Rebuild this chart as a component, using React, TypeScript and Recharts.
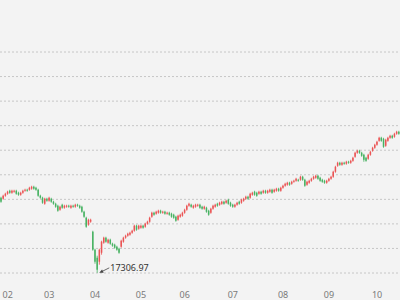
import { Bar, CartesianGrid, ComposedChart, ReferenceDot, XAxis, YAxis } from "recharts";

// each candle: [open, close, low, high]
type Candle = [number, number, number, number];

const jan: Candle[] = [
  [20364, 20202, 20161, 20405], [20324, 20446, 20283, 20487], [20446, 20527, 20405, 20568]
];
const feb: Candle[] = [
  [20527, 20609, 20487, 20649], [20649, 20568, 20527, 20690], [20568, 20649, 20527, 20690], [20609, 20649, 20568, 20690],
  [20649, 20527, 20487, 20690], [20568, 20487, 20446, 20609], [20487, 20568, 20446, 20609], [20568, 20649, 20527, 20690],
  [20649, 20690, 20609, 20731], [20690, 20649, 20609, 20731], [20690, 20771, 20649, 20812], [20731, 20812, 20690, 20853],
  [20812, 20731, 20690, 20853], [20771, 20690, 20649, 20812], [20690, 20446, 20405, 20731], [20446, 20364, 20324, 20487],
  [20364, 20161, 20120, 20405], [20120, 20324, 20080, 20364], [20324, 20242, 20202, 20364]
];
const mar: Candle[] = [
  [20242, 20364, 20202, 20405], [20324, 20202, 20161, 20364], [20202, 20120, 20080, 20242], [20120, 19998, 19957, 20161],
  [20039, 19835, 19795, 20080], [19876, 19998, 19835, 20039], [20080, 19957, 19917, 20120], [19957, 20039, 19917, 20080],
  [19998, 20039, 19957, 20080], [20039, 19998, 19957, 20080], [19957, 20039, 19917, 20080], [20039, 19998, 19957, 20080],
  [19998, 20080, 19957, 20120], [20080, 20039, 19998, 20120], [20039, 19957, 19917, 20080], [19998, 19795, 19754, 20039],
  [19795, 19591, 19550, 19835], [19550, 19184, 19143, 19591], [19266, 19469, 19225, 19510], [19388, 19469, 19347, 19510],
  [18981, 18248, 18207, 19021]
];
const apr: Candle[] = [
  [18248, 17760, 17678, 18289], [17922, 17434, 17306.97, 18004], [17760, 18248, 17638, 18289], [18126, 18574, 18045, 18614],
  [18533, 18737, 18492, 18777], [18737, 18574, 18533, 18777], [18533, 18655, 18492, 18696], [18655, 18492, 18452, 18696],
  [18492, 18411, 18370, 18533], [18452, 18329, 18289, 18492], [18370, 18248, 18207, 18411], [18289, 18126, 18085, 18329],
  [18370, 18614, 18329, 18655], [18574, 18737, 18533, 18777], [18737, 18818, 18696, 18859], [18818, 18899, 18777, 18940],
  [18859, 18940, 18818, 18981], [18940, 19021, 18899, 19062], [19021, 19225, 18981, 19266], [19225, 19062, 19021, 19266],
  [19103, 19225, 19062, 19266]
];
const may: Candle[] = [
  [19143, 19225, 19103, 19266], [19225, 19143, 19103, 19266], [19184, 19306, 19143, 19347], [19306, 19388, 19266, 19428],
  [19388, 19550, 19347, 19591], [19591, 19754, 19550, 19795], [19754, 19673, 19632, 19795], [19713, 19795, 19673, 19835],
  [19754, 19835, 19713, 19876], [19835, 19754, 19713, 19876], [19754, 19795, 19713, 19835], [19795, 19713, 19673, 19835],
  [19713, 19754, 19673, 19795], [19754, 19673, 19632, 19795], [19713, 19591, 19550, 19754], [19673, 19550, 19510, 19713],
  [19591, 19428, 19388, 19632], [19469, 19632, 19428, 19673], [19591, 19673, 19550, 19713], [19632, 19754, 19591, 19795]
];
const jun: Candle[] = [
  [19754, 19876, 19713, 19917], [19876, 20039, 19835, 20080], [20039, 20120, 19998, 20161], [20080, 19998, 19957, 20120],
  [19957, 20039, 19917, 20080], [19998, 20080, 19957, 20120], [20039, 20080, 19998, 20120], [20080, 19957, 19917, 20120],
  [19998, 19917, 19876, 20039], [19917, 19998, 19876, 20039], [19957, 19795, 19754, 19998], [19835, 19673, 19632, 19876],
  [19754, 19917, 19713, 19957], [19917, 20039, 19876, 20080], [19998, 20080, 19957, 20120], [20120, 20039, 19998, 20161],
  [20080, 20161, 20039, 20202], [20120, 20202, 20080, 20242], [20202, 20120, 20080, 20242], [20161, 20242, 20120, 20283],
  [20283, 20120, 20080, 20324], [20161, 20039, 19998, 20202]
];
const jul: Candle[] = [
  [20080, 19998, 19957, 20120], [19998, 20080, 19957, 20120], [20080, 20161, 20039, 20202], [20202, 20120, 20080, 20242],
  [20161, 20283, 20120, 20324], [20242, 20324, 20202, 20364], [20324, 20405, 20283, 20446], [20405, 20324, 20283, 20446],
  [20364, 20527, 20324, 20568], [20487, 20568, 20446, 20609], [20609, 20487, 20446, 20649], [20568, 20446, 20405, 20609],
  [20527, 20609, 20487, 20649], [20609, 20527, 20487, 20649], [20568, 20649, 20527, 20690], [20649, 20568, 20527, 20690],
  [20568, 20649, 20527, 20690], [20609, 20690, 20568, 20731], [20690, 20568, 20527, 20731], [20609, 20690, 20568, 20731],
  [20649, 20731, 20609, 20771], [20731, 20649, 20609, 20771], [20649, 20771, 20609, 20812]
];
const aug: Candle[] = [
  [20771, 20853, 20731, 20894], [20853, 20934, 20812, 20975], [20894, 20975, 20853, 21016], [20975, 20894, 20853, 21016],
  [20934, 21016, 20894, 21056], [21016, 21056, 20975, 21097], [21056, 21138, 21016, 21178], [21097, 21056, 21016, 21138],
  [21097, 21219, 21056, 21260], [21219, 21097, 21056, 21260], [21097, 20853, 20812, 21138], [20894, 21016, 20853, 21056],
  [20975, 21056, 20934, 21097], [21056, 21138, 21016, 21178], [21138, 21219, 21097, 21260], [21178, 21260, 21138, 21301],
  [21260, 21138, 21097, 21301], [21178, 21056, 21016, 21219], [21097, 21016, 20975, 21138], [21056, 20975, 20934, 21097],
  [20975, 21056, 20934, 21097]
];
const sep: Candle[] = [
  [21056, 21138, 21016, 21178], [21138, 21219, 21097, 21260], [21219, 21423, 21178, 21463], [21423, 21626, 21382, 21667],
  [21667, 21789, 21626, 21830], [21789, 21708, 21667, 21830], [21708, 21789, 21667, 21830], [21789, 21748, 21708, 21830],
  [21748, 21830, 21708, 21870], [21830, 21789, 21748, 21870], [21789, 21870, 21748, 21911], [21870, 21993, 21830, 22033],
  [22033, 22196, 21993, 22237], [22196, 22277, 22155, 22318], [22277, 22196, 22155, 22318], [22196, 22074, 22033, 22237],
  [22115, 21911, 21830, 22155], [21993, 21870, 21830, 22033], [21952, 22115, 21911, 22155], [22115, 22237, 22074, 22277],
  [22277, 22400, 22237, 22440], [22400, 22522, 22359, 22562]
];
const oct: Candle[] = [
  [22522, 22644, 22481, 22684], [22684, 22807, 22644, 22847], [22807, 22684, 22644, 22847], [22766, 22440, 22400, 22807],
  [22481, 22725, 22440, 22766], [22684, 22807, 22644, 22847], [22807, 22888, 22766, 22929], [22888, 22807, 22766, 22929],
  [22847, 22969, 22807, 23010], [22969, 23051, 22929, 23091], [23051, 22969, 22929, 23091]
];

const monthLabels = ["01", "02", "03", "04", "05", "06", "07", "08", "09", "10"];
const monthCandles = [jan, feb, mar, apr, may, jun, jul, aug, sep, oct];
const yTicks = [17300, 18300, 19300, 20300, 21300, 22300, 23300, 24300, 25300, 26300];

const UP = "#eb5454";
const DOWN = "#47b262";
const FONT = "'Noto Sans', sans-serif";

const rows = monthCandles.flatMap((list, m) =>
  list.map(([open, close, low, high], d) => ({
    day: `${monthLabels[m]}-${d + 1}`,
    open,
    close,
    low,
    high,
    range: [low, high]
  }))
);
const monthTicks = monthLabels.slice(1).map((label) => `${label}-1`);
const lowRow = rows.reduce((a, b) => (b.low < a.low ? b : a));

function CandleShape(props: any) {
  const { x, y, width, height, payload } = props;
  if (!payload) return null;
  const top = Math.min(y, y + height);
  const h = Math.abs(height);
  const { open, close, low, high } = payload;
  const toY = (v: number) => top + ((high - v) / (high - low || 1)) * h;
  const color = close >= open ? UP : DOWN;
  const cx = x + width / 2;
  const bodyTop = toY(Math.max(open, close));
  const bodyBottom = toY(Math.min(open, close));
  const bw = width * 0.75;
  return (
    <g>
      <line x1={cx} x2={cx} y1={top} y2={top + h} stroke={color} strokeWidth={0.8} />
      <rect x={cx - bw / 2} y={bodyTop} width={bw} height={Math.max(bodyBottom - bodyTop, 1)} fill={color} />
    </g>
  );
}

function LowLabel({ cx, cy }: any) {
  if (cx == null || cy == null) return null;
  const tipX = cx + 2;
  return (
    <g>
      <line x1={tipX + 3} y1={cy - 1.5} x2={cx + 12} y2={cy - 5} stroke="#444" strokeWidth={0.8} />
      <path d={`M${tipX},${cy} L${tipX + 4.4},${cy - 0.2} L${tipX + 2.8},${cy - 3.4} Z`} fill="#444" />
      <text x={cx + 13} y={cy - 2} fontSize={9} fill="#333" fontFamily={FONT}>
        {lowRow.low.toFixed(2)}
      </text>
    </g>
  );
}

export default function App() {
  return (
    <div style={{ position: "absolute", left: 0, top: 0, width: 400, height: 300, background: "#f3f3f3" }}>
      <ComposedChart width={400} height={300} data={rows} margin={{ top: 52, right: 0, bottom: 0, left: 0 }} barCategoryGap={0}>
        <CartesianGrid vertical={false} stroke="#c6c6c6" strokeDasharray="2 2" />
        <XAxis
          dataKey="day"
          ticks={monthTicks}
          interval={0}
          axisLine={false}
          tickLine={false}
          height={27}
          tickMargin={13}
          tickFormatter={(v: string) => v.slice(0, 2)}
          tick={{ fontSize: 9, fill: "#7a7a7a", fontFamily: FONT }}
        />
        <YAxis hide domain={[17300, 26300]} ticks={yTicks} />
        <Bar dataKey="range" shape={CandleShape} isAnimationActive={false} />
        <ReferenceDot x={lowRow.day} y={lowRow.low} shape={LowLabel} ifOverflow="visible" />
      </ComposedChart>
    </div>
  );
}
